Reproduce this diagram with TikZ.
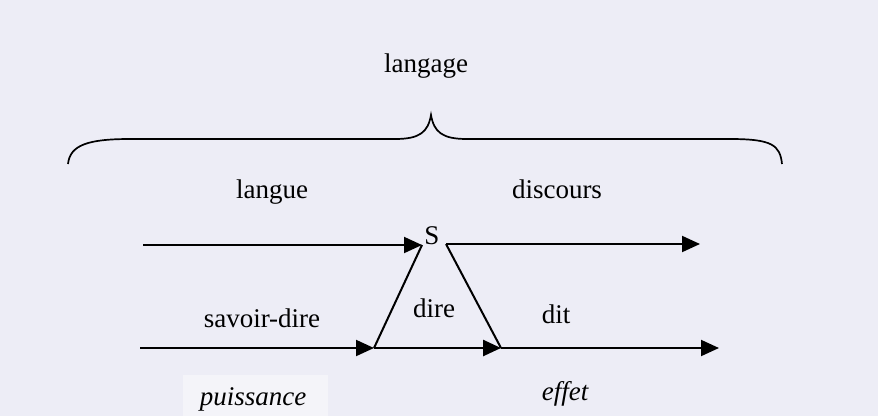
\documentclass[tikz,border=0pt]{standalone}
\usepackage{fontspec}
\setmainfont{Liberation Serif}
\usetikzlibrary{arrows.meta}
\definecolor{paper}{RGB}{237,237,246}
\definecolor{paperlight}{RGB}{244,244,249}
\begin{document}
\begin{tikzpicture}[x=1pt,y=-1pt,
  lbl/.style={anchor=base,inner sep=0pt,font=\fontsize{27}{30}\selectfont},
  ilbl/.style={lbl,font=\fontsize{27}{30}\selectfont\itshape},
  flow/.style={line width=2pt,-{Triangle[length=18pt,width=16pt]}},
  edge/.style={line width=2pt}]
\useasboundingbox (0,0) rectangle (878,416);
\fill[paper] (0,0) rectangle (878,416);
\fill[paperlight] (183,375) rectangle (328,416);

% labels
\node[lbl] (langage) at (426,72) {langage};
\node[lbl] (langue) at (272,198) {langue};
\node[lbl] (discours) at (557,198) {discours};
\node[lbl] (S) at (432,244) {S};
\node[lbl] (savoir) at (262,327) {savoir-dire};
\node[lbl] (dire) at (434,317) {dire};
\node[lbl] (dit) at (556,323) {dit};
\node[ilbl] (puissance) at (253,405) {puissance};
\node[ilbl] (effet) at (565,400) {effet};

% brace
\draw[line width=1.7pt] (68,164) .. controls (70,145) and (88,139) .. (130,139)
  -- (395,139) .. controls (420,139) and (428,132) .. (431,115)
  .. controls (434,132) and (442,139) .. (467,139)
  -- (730,139) .. controls (772,139) and (780,145) .. (782,164);

% coordinates
\coordinate (tl) at (143,245);
\coordinate (tS) at (422,245);
\coordinate (tr0) at (446,244);
\coordinate (tr) at (700,244);
\coordinate (bl) at (140,348);
\coordinate (b1) at (374,348);
\coordinate (b2) at (501,348);
\coordinate (br) at (719,348);

% arrows
\draw[flow] (tl) -- (tS);
\draw[flow] (tr0) -- (tr);
\draw[flow] (bl) -- (b1);
\draw[flow,line width=2.6pt] (b1) -- (b2);
\draw[flow] (b2) -- (br);
% triangle sides
\draw[edge] (b1) -- (tS);
\draw[edge] (tr0) -- (b2);
\end{tikzpicture}
\end{document}
